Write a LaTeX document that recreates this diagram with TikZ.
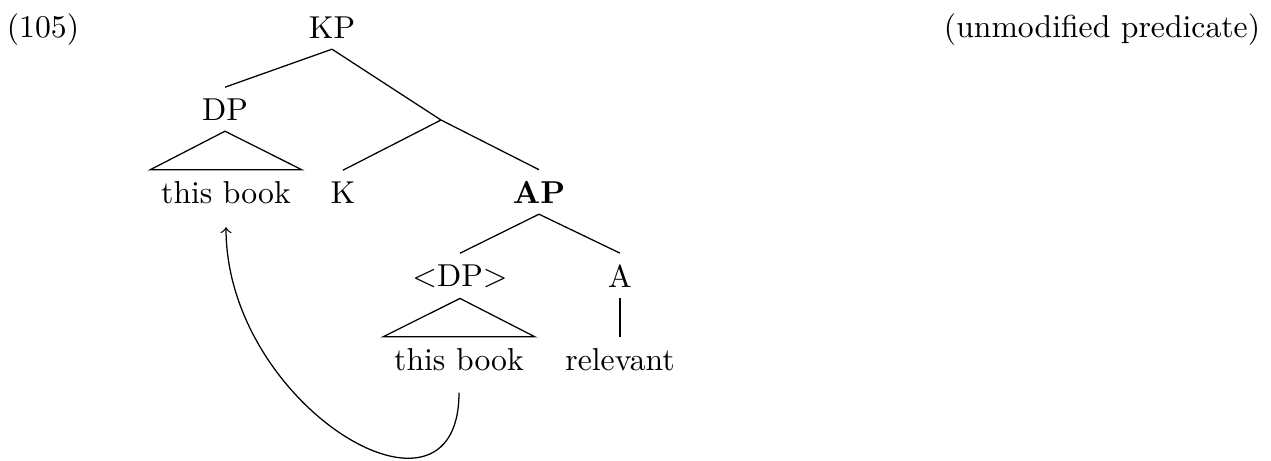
\documentclass[tikz,border=0pt]{standalone}
\usepackage{amsmath,amssymb}
\usetikzlibrary{arrows}

\begin{document}
\begin{tikzpicture}[x=0.01109cm, y=-0.01109cm,
  lbl/.style={anchor=base, inner sep=3.33pt},
  branch/.style={draw, thin},
  move/.style={draw, thin, ->, shorten <=3.5pt, shorten >=4pt}]
  \useasboundingbox (0,0) rectangle (1271,460);

  \node [lbl] (exnum) at (43,37) {(105)};
  \node [lbl] (note) at (1102,37) {(unmodified predicate)};

  \node [lbl] (kp) at (332,38) {KP};
  \node [lbl] (dp) at (225,120) {DP};
  \coordinate (kbar) at (441,120);
  \node [lbl] (book) at (226,203) {this book};
  \node [lbl] (k) at (343,203) {K};
  \node [lbl] (ap) at (539,203) {\textbf{AP}};
  \node [lbl] (dptrace) at (460,286) {$<$DP$>$};
  \node [lbl] (a) at (620,287) {A};
  \node [lbl] (booktrace) at (459,370) {this book};
  \node [lbl] (rel) at (620,370) {relevant};

  \draw [branch] (kp.south) -- (dp.north);
  \draw [branch] (kp.south) -- (kbar);
  \draw [branch] (kbar) -- (k.north);
  \draw [branch] (kbar) -- (ap.north);
  \draw [branch] (ap.south) -- (dptrace.north);
  \draw [branch] (ap.south) -- (a.north);
  \draw [branch] (a.south) -- (rel.north);
  \draw [branch] (dp.south) -- (book.north east) -- (book.north west) -- cycle;
  \draw [branch] (dptrace.south) -- (booktrace.north east) -- (booktrace.north west) -- cycle;

  \draw [move] (booktrace.south) .. controls +(0,164) and +(0,192) .. (book.south);
\end{tikzpicture}
\end{document}
